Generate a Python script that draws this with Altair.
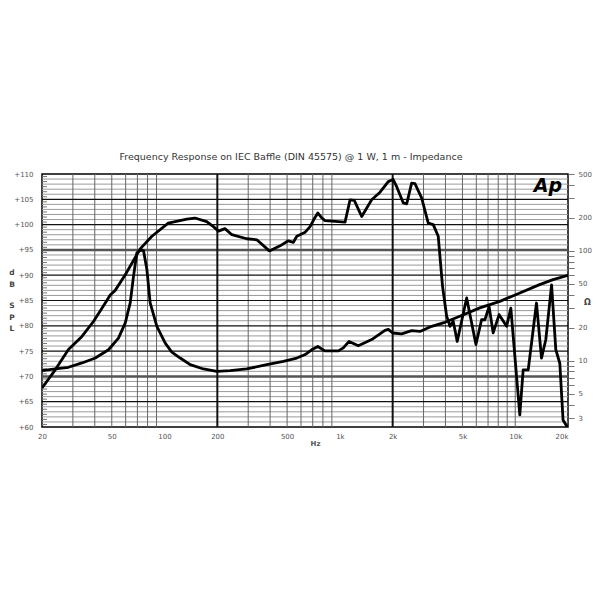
import json
import altair as alt
import pandas as pd

TITLE = "Frequency Response on IEC Baffle (DIN 45575) @ 1 W, 1 m - Impedance"
LEFT_TITLE_TOP = ["d", "B"]
LEFT_TITLE_BOTTOM = ["S", "P", "L"]

# SPL curve (Hz, dB)
spl_freq = [20, 23.8, 28.3, 33.8, 39.4, 45.9, 49, 52.3, 59.7, 72.6, 84.7, 105, 134, 149, 174, 190,
            203, 221, 242, 294, 336, 396, 456, 508, 543, 568, 634, 676, 710, 748, 790, 822, 980, 1070,
            1143, 1208, 1332, 1518, 1694, 1888, 2014, 2108, 2297, 2404, 2566, 2680, 2925, 3192, 3408,
            3638, 3850, 4064, 4246, 4430, 4668, 5284, 5970, 6428, 6714, 7096, 7484, 8098, 8934, 9440,
            10620, 11100, 11860, 13220, 14120, 14950, 16120, 17040, 17960, 18740, 19800]
spl_db = [67.7, 71.3, 75.3, 77.9, 80.9, 84.5, 86.1, 87.0, 90.1, 95.2, 97.7, 100.3, 101.1, 101.3, 100.6, 99.6,
          98.7, 99.2, 98.0, 97.2, 97.0, 94.8, 95.8, 96.8, 96.5, 97.7, 98.5, 99.6, 101.0, 102.3, 101.3, 100.8, 100.6, 100.5,
          104.9, 104.8, 101.6, 104.9, 106.4, 108.5, 108.9, 107.5, 104.3, 104.1, 108.2, 108.1, 105.3, 100.3, 100.0,
          97.7, 87.8, 81.9, 79.9, 80.9, 76.9, 85.5, 76.3, 81.2, 81.2, 83.8, 78.6, 82.2, 79.9, 83.5,
          62.4, 71.3, 71.3, 84.5, 73.6, 77.3, 88.1, 75.3, 72.6, 61.4, 60.0]

# Impedance curve (Hz, Ohm)
imp_freq = [20, 23.8, 28.3, 33.8, 40.3, 47.9, 54.6, 59.7, 63.7, 66.5, 69.5, 73.6, 75.9, 79.3, 82.8, 90.4,
            100.9, 110, 122.8, 140, 166.6, 198.7, 236.6, 294, 383, 476, 568, 634, 690, 748, 822, 980,
            1046, 1128, 1274, 1518, 1808, 1888, 2000, 2250, 2566, 2864, 3338, 3972, 4832, 6280, 8170,
            10620, 13770, 16450, 20000]
imp_ohm = [8.14, 8.43, 8.73, 9.56, 10.6, 12.6, 16.1, 22.1, 33.6, 58.6, 95.7, 102.5, 100, 67.5, 33.6, 20.6,
           14.5, 12.0, 10.6, 9.22, 8.43, 8.02, 8.14, 8.43, 9.22, 9.9, 10.6, 11.4, 12.6, 13.5, 12.3, 12.3,
           13.1, 15.0, 13.7, 15.6, 18.9, 19.3, 17.9, 17.6, 18.8, 18.5, 20.6, 22.4, 25.4, 30.3, 34.7,
           41.4, 49.3, 54.7, 60]

x_tick_values = [20, 50, 100, 200, 500, 1000, 2000, 5000, 10000, 20000]
x_tick_labels = ["20", "50", "100", "200", "500", "1k", "2k", "5k", "10k", "20k"]
db_tick_values = [60, 65, 70, 75, 80, 85, 90, 95, 100, 105, 110]
ohm_tick_values = [3, 4, 5, 6, 7, 8, 9, 10, 20, 30, 40, 50, 60, 70, 80, 90, 100, 200, 300, 400, 500]
ohm_label_values = [3, 5, 10, 20, 50, 100, 200, 500]

# grid positions
vgrid_minor = [m * 10 ** d for d in (1, 2, 3) for m in range(2, 10)] + [10000]
vgrid_minor = [v for v in vgrid_minor if v not in (20, 200, 2000)]
vgrid_major = [200, 2000]
hgrid_minor = [v for v in range(61, 110) if v % 5 != 0]
hgrid_major = [65, 75, 80, 85, 90, 100, 105]
hgrid_heavy = [70, 95]
half_db = [v + 0.5 for v in range(60, 110)]

W, H = 526, 253

x_scale = alt.Scale(type="log", domain=[20, 20000], nice=False)
db_scale = alt.Scale(domain=[60, 110], nice=False, zero=False)
ohm_scale = alt.Scale(type="log", domain=[2.5, 500], nice=False)

spl_df = pd.DataFrame({"f": spl_freq, "db": spl_db})
imp_df = pd.DataFrame({"f": imp_freq, "z": imp_ohm})

x_label_expr = f"{json.dumps(x_tick_labels)}[indexof({json.dumps(x_tick_values)}, datum.value)]"

X_AXIS = alt.Axis(
    orient="bottom", values=x_tick_values, labelExpr=x_label_expr, grid=False, ticks=False,
    domain=False, labelFontSize=7, labelColor="#555", labelPadding=5, labelOverlap=False,
    labelFlush=False, labelAlign={"expr": "datum.value >= 20000 ? 'right' : 'center'"},
    title="Hz", titleX=273, titleY=16, titleFontSize=7, titleFontWeight="bold", titleColor="#555",
    titleAlign="center", titleBaseline="middle")

DB_AXIS = alt.Axis(
    orient="left", values=db_tick_values, labelExpr="'+' + datum.value", grid=False, ticks=False,
    domain=False, labelFontSize=7, labelColor="#555", labelPadding=9, labelOverlap=False,
    title=None)

OHM_AXIS = alt.Axis(
    orient="right", values=ohm_tick_values,
    labelExpr=f"indexof({json.dumps(ohm_label_values)}, datum.value) >= 0 ? datum.value : ''",
    grid=False, ticks=True, tickSize=6, tickColor="#777", tickWidth=1, domain=False,
    labelFontSize=7, labelColor="#555", labelPadding=4, labelOverlap=False, labelBound=False,
    title="Ω", titleAngle=0, titleX=19, titleY=128, titleFontSize=8, titleFontWeight="bold",
    titleColor="#444", titleAlign="center", titleBaseline="middle")


def hrules(vals, color, width):
    return alt.Chart(pd.DataFrame({"db": vals})).mark_rule(color=color, strokeWidth=width).encode(
        y=alt.Y("db:Q", scale=db_scale, axis=DB_AXIS),
        x=alt.value(0), x2=alt.value(W))


def vrules(vals, color, width):
    return alt.Chart(pd.DataFrame({"f": vals})).mark_rule(color=color, strokeWidth=width).encode(
        x=alt.X("f:Q", scale=x_scale, axis=X_AXIS),
        y=alt.value(0), y2=alt.value(H))


def annot(text, x, y, **style):
    return alt.Chart(pd.DataFrame({"t": [text]})).mark_text(**style).encode(
        text="t:N", x=alt.value(x), y=alt.value(y))


half_ticks = alt.Chart(pd.DataFrame({"db": half_db})).mark_rule(color="#777", strokeWidth=1).encode(
    y=alt.Y("db:Q", scale=db_scale, axis=DB_AXIS), x=alt.value(0), x2=alt.value(5))

spl_line = alt.Chart(spl_df).mark_line(color="black", strokeWidth=2.8, strokeJoin="round", clip=True).encode(
    x=alt.X("f:Q", scale=x_scale, axis=X_AXIS),
    y=alt.Y("db:Q", scale=db_scale, axis=DB_AXIS),
)

imp_line = alt.Chart(imp_df).mark_line(color="black", strokeWidth=2.8, strokeJoin="round", clip=True).encode(
    x=alt.X("f:Q", scale=x_scale, axis=X_AXIS),
    y=alt.Y("z:Q", scale=ohm_scale, axis=OHM_AXIS),
)

logo = annot("Ap", W - 6, 18, font="DejaVu Sans", fontWeight="bold", fontStyle="italic",
             fontSize=19, align="right", baseline="alphabetic", color="black")

letter_style = dict(font="DejaVu Sans", fontWeight="bold", fontSize=7.5, color="#444",
                    align="center", baseline="middle")
left_title = [annot(t, -30, 99 + 11.5 * i, **letter_style) for i, t in enumerate(LEFT_TITLE_TOP)]
left_title += [annot(t, -30, 132 + 11.5 * i, **letter_style) for i, t in enumerate(LEFT_TITLE_BOTTOM)]

inner = alt.layer(
    hrules(hgrid_minor, "#9a9a9a", 1),
    vrules(vgrid_minor, "#666", 1),
    hrules(hgrid_major, "#111", 1.2),
    hrules(hgrid_heavy, "#555", 2.5),
    vrules(vgrid_major, "#111", 2),
    half_ticks,
    logo,
    *left_title,
    spl_line,
)

chart = alt.layer(inner, imp_line).resolve_scale(y="independent").properties(
    width=W, height=H,
    autosize=alt.AutoSizeParams(type="none"),
    padding={"left": 34, "top": 166, "right": 24, "bottom": 60},
    title=alt.TitleParams(text=TITLE, font="DejaVu Sans", fontSize=9.5, fontWeight="normal",
                          color="#333", anchor="middle", frame="group", offset=1,
                          baseline="alphabetic", dx=-14),
).configure_view(stroke="black", strokeWidth=1.5).configure_axis(
    labelFont="DejaVu Sans", titleFont="DejaVu Sans")

chart.save("out.html", embed_options={"renderer": "svg", "actions": False})
